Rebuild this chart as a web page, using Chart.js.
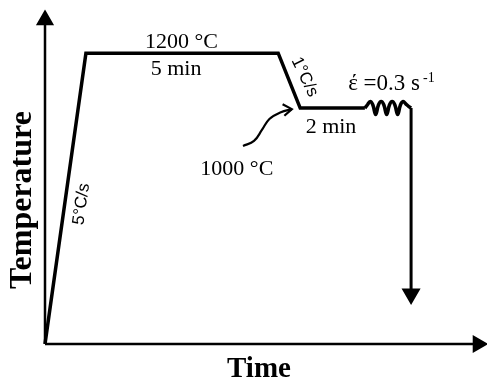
<!DOCTYPE html>
<html>
<head>
<meta charset="utf-8">
<script src="https://cdn.jsdelivr.net/npm/chart.js@4"></script>
<style>
  html, body { margin: 0; padding: 0; background: #fff; }
  #wrap { width: 487px; height: 381px; }
</style>
</head>
<body>
<div id="wrap"><canvas id="chart" width="487" height="381"></canvas></div>
<script>
// ── Data (t = schematic time units, T = °C) ──────────
const rampT      = [0, 9.3, 53, 58, 72.7];
const rampTemp   = [140, 1200, 1200, 1000, 1000];
const coilT      = [72.7, 73.3, 73.9, 74.5, 75.15, 75.8, 76.4, 77.0, 77.65,
                    78.3, 78.9, 79.5, 80.15, 80.8, 81.4, 82.0, 82.7, 83.2];
const coilTemp   = [1000, 1012, 1024, 1012, 976, 1012, 1024, 1012, 976,
                    1012, 1024, 1012, 976, 1012, 1024, 1015, 1005, 1000];
const quenchT    = [83.2, 83.2];
const quenchTemp = [1000, 322];
const pointerT    = [45.0, 47.5, 49.3, 51.0, 53.6, 56.1];
const pointerTemp = [862, 880, 920, 960, 985, 996];
const headT      = [54.0, 56.1, 54.4];
const headTemp   = [1014, 996, 972];
const yAxisT     = [0, 0];
const yAxisTemp  = [140, 1321];
const xAxisT     = [0, 98.4];
const xAxisTemp  = [140, 140];

const tMin = 0, tMax = 100;
const tempMin = 140, tempMax = 1350;

// ── Text labels ──────────────────────────────────────
const labels = [
  { text: '1200 °C', t: 31.0, T: 1219, font: '22px "Liberation Serif"' },
  { text: '5 min',   t: 29.8, T: 1120, font: '22px "Liberation Serif"' },
  { text: '2 min',   t: 65.0, T: 909,  font: '22px "Liberation Serif"' },
  { text: '1000 °C', t: 43.6, T: 756,  font: '22px "Liberation Serif"' },
  { text: '5°C/s',   t: 8.3,  T: 650,  font: '17px "Liberation Sans"', rot: -82, mid: true },
  { text: '1°C/s',   t: 59.0, T: 1113, font: '17px "Liberation Sans"', rot: 64,  mid: true }
];

const zip = (xs, ys) => xs.map((x, i) => ({ x, y: ys[i] }));

function lineSet(xs, ys, width, extra) {
  return Object.assign({
    data: zip(xs, ys),
    showLine: true,
    borderColor: '#000',
    backgroundColor: '#000',
    borderWidth: width,
    pointRadius: 0,
    tension: 0,
    clip: false,
    borderCapStyle: 'butt',
    borderJoinStyle: 'miter'
  }, extra || {});
}

const textPlugin = {
  id: 'textPlugin',
  afterDatasetsDraw(chart) {
    const { ctx, scales: { x, y }, chartArea } = chart;
    ctx.save();
    ctx.fillStyle = '#000';
    labels.forEach(l => {
      ctx.save();
      ctx.font = l.font;
      ctx.textAlign = 'center';
      ctx.textBaseline = l.mid ? 'middle' : 'alphabetic';
      ctx.translate(x.getPixelForValue(l.t), y.getPixelForValue(l.T));
      if (l.rot) ctx.rotate(l.rot * Math.PI / 180);
      ctx.fillText(l.text, 0, 0);
      ctx.restore();
    });

    // strain rate label with superscript
    const sx = x.getPixelForValue(68.9), sy = y.getPixelForValue(1066);
    ctx.font = '23px "Liberation Serif"';
    ctx.textAlign = 'left';
    ctx.textBaseline = 'alphabetic';
    const main = 'έ =0.3 s';
    ctx.fillText(main, sx, sy);
    const w = ctx.measureText(main).width;
    ctx.font = '14px "Liberation Serif"';
    ctx.fillText('-1', sx + w + 3, sy - 8);

    // axis titles
    ctx.font = 'bold 29px "Liberation Serif"';
    ctx.textAlign = 'center';
    ctx.fillText('Time', 259, chartArea.bottom + 33);
    ctx.save();
    ctx.translate(chartArea.left - 22, 200);
    ctx.rotate(-Math.PI / 2);
    ctx.textBaseline = 'middle';
    ctx.font = 'bold 32px "Liberation Serif"';
    ctx.fillText('Temperature', 0, 0);
    ctx.restore();
    ctx.restore();
  }
};

new Chart(document.getElementById('chart'), {
  type: 'scatter',
  data: {
    datasets: [
      lineSet(yAxisT, yAxisTemp, 2.5, { pointRadius: [0, 8], pointStyle: 'triangle', rotation: 0 }),
      lineSet(xAxisT, xAxisTemp, 2.5, { pointRadius: [0, 8], pointStyle: 'triangle', rotation: 90 }),
      lineSet(rampT, rampTemp, 3.5),
      lineSet(coilT, coilTemp, 3.5, { tension: 0.4, borderJoinStyle: 'round' }),
      lineSet(quenchT, quenchTemp, 3, { pointRadius: [0, 8], pointStyle: 'triangle', rotation: 180 }),
      lineSet(pointerT, pointerTemp, 2.2, { tension: 0.4 }),
      lineSet(headT, headTemp, 2.2)
    ]
  },
  options: {
    responsive: false,
    animation: false,
    layout: { autoPadding: false, padding: { left: 45, right: 2, top: 12, bottom: 37 } },
    plugins: { legend: { display: false }, tooltip: { enabled: false } },
    scales: {
      x: { type: 'linear', min: tMin, max: tMax, display: false },
      y: { type: 'linear', min: tempMin, max: tempMax, display: false }
    }
  },
  plugins: [textPlugin]
});
</script>
</body>
</html>
